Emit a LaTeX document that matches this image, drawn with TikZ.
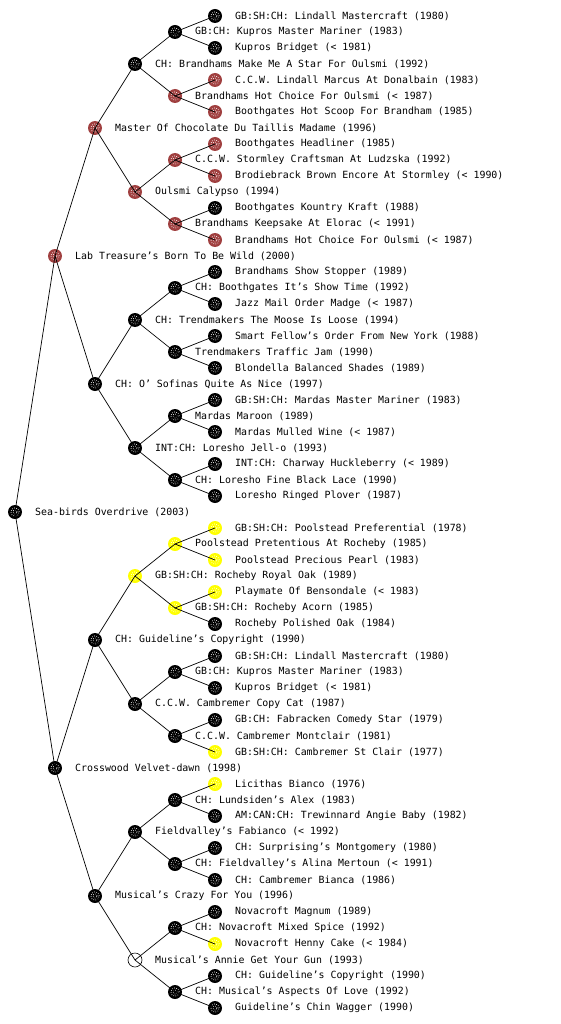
\documentclass[tikz,border=0pt]{standalone}
\usepackage{fontspec}
\setmonofont{DejaVu Sans Mono}
\definecolor{mred}{RGB}{160,64,64}
\definecolor{myel}{RGB}{255,255,0}
\tikzset{
  mk/.style={circle, inner sep=0pt, minimum size=14pt, draw=none,
    path picture={\draw[white, line width=0.7pt, dash pattern=on 0.7pt off 1.5pt]
      (path picture bounding box.center) circle (4.2pt) circle (2pt);}},
  blk/.style={mk, fill=black},
  red/.style={mk, fill=mred},
  yel/.style={mk, fill=myel},
  wht/.style={circle, inner sep=0pt, minimum size=14pt, draw=black, line width=0.6pt, fill=white},
  lbl/.style={anchor=west, inner sep=0pt, font=\ttfamily\fontsize{9.9pt}{10pt}\selectfont},
  edge/.style={draw=black, line width=0.7pt}
}
\def\pn#1#2#3#4#5{\node[#4] (#1) at (#2,#3) {}; \node[lbl] (#1t) at ([xshift=20pt]#1.center) {#5};}
\begin{document}
\begin{tikzpicture}[x=1pt,y=-1pt]
\useasboundingbox[fill=white] (0,0) rectangle (560,1024);
% generation 0
\pn{g0-0}{15}{512}{blk}{Sea-birds Overdrive (2003)}
% generation 1
\pn{g1-0}{55}{256}{red}{Lab Treasure’s Born To Be Wild (2000)}
\pn{g1-1}{55}{768}{blk}{Crosswood Velvet-dawn (1998)}
% generation 2
\pn{g2-0}{95}{128}{red}{Master Of Chocolate Du Taillis Madame (1996)}
\pn{g2-1}{95}{384}{blk}{CH: O’ Sofinas Quite As Nice (1997)}
\pn{g2-2}{95}{640}{blk}{CH: Guideline’s Copyright (1990)}
\pn{g2-3}{95}{896}{blk}{Musical’s Crazy For You (1996)}
% generation 3
\pn{g3-0}{135}{64}{blk}{CH: Brandhams Make Me A Star For Oulsmi (1992)}
\pn{g3-1}{135}{192}{red}{Oulsmi Calypso (1994)}
\pn{g3-2}{135}{320}{blk}{CH: Trendmakers The Moose Is Loose (1994)}
\pn{g3-3}{135}{448}{blk}{INT:CH: Loresho Jell-o (1993)}
\pn{g3-4}{135}{576}{yel}{GB:SH:CH: Rocheby Royal Oak (1989)}
\pn{g3-5}{135}{704}{blk}{C.C.W. Cambremer Copy Cat (1987)}
\pn{g3-6}{135}{832}{blk}{Fieldvalley’s Fabianco (< 1992)}
\pn{g3-7}{135}{960}{wht}{Musical’s Annie Get Your Gun (1993)}
% generation 4
\pn{g4-0}{175}{32}{blk}{GB:CH: Kupros Master Mariner (1983)}
\pn{g4-1}{175}{96}{red}{Brandhams Hot Choice For Oulsmi (< 1987)}
\pn{g4-2}{175}{160}{red}{C.C.W. Stormley Craftsman At Ludzska (1992)}
\pn{g4-3}{175}{224}{red}{Brandhams Keepsake At Elorac (< 1991)}
\pn{g4-4}{175}{288}{blk}{CH: Boothgates It’s Show Time (1992)}
\pn{g4-5}{175}{352}{blk}{Trendmakers Traffic Jam (1990)}
\pn{g4-6}{175}{416}{blk}{Mardas Maroon (1989)}
\pn{g4-7}{175}{480}{blk}{CH: Loresho Fine Black Lace (1990)}
\pn{g4-8}{175}{544}{yel}{Poolstead Pretentious At Rocheby (1985)}
\pn{g4-9}{175}{608}{yel}{GB:SH:CH: Rocheby Acorn (1985)}
\pn{g4-10}{175}{672}{blk}{GB:CH: Kupros Master Mariner (1983)}
\pn{g4-11}{175}{736}{blk}{C.C.W. Cambremer Montclair (1981)}
\pn{g4-12}{175}{800}{blk}{CH: Lundsiden’s Alex (1983)}
\pn{g4-13}{175}{864}{blk}{CH: Fieldvalley’s Alina Mertoun (< 1991)}
\pn{g4-14}{175}{928}{blk}{CH: Novacroft Mixed Spice (1992)}
\pn{g4-15}{175}{992}{blk}{CH: Musical’s Aspects Of Love (1992)}
% generation 5
\pn{g5-0}{215}{16}{blk}{GB:SH:CH: Lindall Mastercraft (1980)}
\pn{g5-1}{215}{48}{blk}{Kupros Bridget (< 1981)}
\pn{g5-2}{215}{80}{red}{C.C.W. Lindall Marcus At Donalbain (1983)}
\pn{g5-3}{215}{112}{red}{Boothgates Hot Scoop For Brandham (1985)}
\pn{g5-4}{215}{144}{red}{Boothgates Headliner (1985)}
\pn{g5-5}{215}{176}{red}{Brodiebrack Brown Encore At Stormley (< 1990)}
\pn{g5-6}{215}{208}{blk}{Boothgates Kountry Kraft (1988)}
\pn{g5-7}{215}{240}{red}{Brandhams Hot Choice For Oulsmi (< 1987)}
\pn{g5-8}{215}{272}{blk}{Brandhams Show Stopper (1989)}
\pn{g5-9}{215}{304}{blk}{Jazz Mail Order Madge (< 1987)}
\pn{g5-10}{215}{336}{blk}{Smart Fellow’s Order From New York (1988)}
\pn{g5-11}{215}{368}{blk}{Blondella Balanced Shades (1989)}
\pn{g5-12}{215}{400}{blk}{GB:SH:CH: Mardas Master Mariner (1983)}
\pn{g5-13}{215}{432}{blk}{Mardas Mulled Wine (< 1987)}
\pn{g5-14}{215}{464}{blk}{INT:CH: Charway Huckleberry (< 1989)}
\pn{g5-15}{215}{496}{blk}{Loresho Ringed Plover (1987)}
\pn{g5-16}{215}{528}{yel}{GB:SH:CH: Poolstead Preferential (1978)}
\pn{g5-17}{215}{560}{yel}{Poolstead Precious Pearl (1983)}
\pn{g5-18}{215}{592}{yel}{Playmate Of Bensondale (< 1983)}
\pn{g5-19}{215}{624}{blk}{Rocheby Polished Oak (1984)}
\pn{g5-20}{215}{656}{blk}{GB:SH:CH: Lindall Mastercraft (1980)}
\pn{g5-21}{215}{688}{blk}{Kupros Bridget (< 1981)}
\pn{g5-22}{215}{720}{blk}{GB:CH: Fabracken Comedy Star (1979)}
\pn{g5-23}{215}{752}{yel}{GB:SH:CH: Cambremer St Clair (1977)}
\pn{g5-24}{215}{784}{yel}{Licithas Bianco (1976)}
\pn{g5-25}{215}{816}{blk}{AM:CAN:CH: Trewinnard Angie Baby (1982)}
\pn{g5-26}{215}{848}{blk}{CH: Surprising’s Montgomery (1980)}
\pn{g5-27}{215}{880}{blk}{CH: Cambremer Bianca (1986)}
\pn{g5-28}{215}{912}{blk}{Novacroft Magnum (1989)}
\pn{g5-29}{215}{944}{yel}{Novacroft Henny Cake (< 1984)}
\pn{g5-30}{215}{976}{blk}{CH: Guideline’s Copyright (1990)}
\pn{g5-31}{215}{1008}{blk}{Guideline’s Chin Wagger (1990)}
% connectors
\foreach \k/\n in {0/1,1/2,2/4,3/8,4/16}{
  \pgfmathtruncatemacro\kk{\k+1}
  \pgfmathtruncatemacro\m{\n-1}
  \foreach \i in {0,...,\m}{
    \pgfmathtruncatemacro\a{2*\i}
    \pgfmathtruncatemacro\b{2*\i+1}
    \draw[edge] (g\k-\i.center) -- (g\kk-\a.center);
    \draw[edge] (g\k-\i.center) -- (g\kk-\b.center);
  }
}
\end{tikzpicture}
\end{document}
